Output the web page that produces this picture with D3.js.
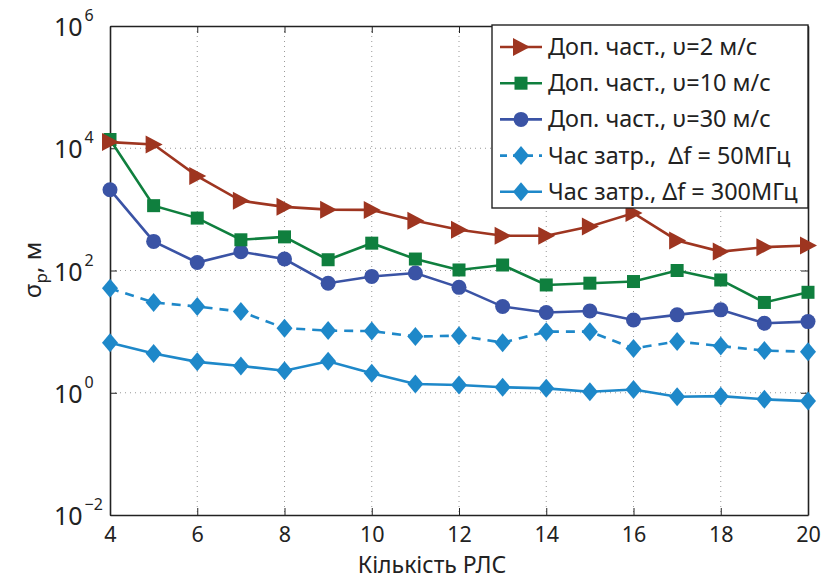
<!DOCTYPE html>
<meta charset="utf-8">
<html>
<style>
  body { margin: 0; background: #fff; }
  svg { font-family: "Noto Sans", sans-serif; }
  .grid line { stroke: #999; stroke-dasharray: 1,4; stroke-width: 1; }
</style>
<body>
<svg width="824" height="579"></svg>
<script src="https://d3js.org/d3.v7.min.js"></script>
<script>

// data
var radarCount = [4, 5, 6, 7, 8, 9, 10, 11, 12, 13, 14, 15, 16, 17, 18, 19, 20];
var dopV2  = [12600, 11500, 3500, 1380, 1100, 990, 980, 650, 465, 370, 370, 525, 870, 310, 204, 241, 257];
var dopV10 = [13900, 1150, 720, 318, 355, 150, 280, 154, 102, 123, 58, 62, 66, 100, 70, 30, 44];
var dopV30 = [2100, 299, 135, 203, 154, 62, 80, 91, 53, 25.7, 20.5, 21.8, 15.5, 18.8, 22.7, 13.7, 14.6];
var delay50  = [51, 30, 25.7, 21.3, 11.4, 10.4, 10.2, 8.3, 8.6, 6.6, 10, 10, 5.3, 6.9, 5.8, 4.9, 4.7];
var delay300 = [6.6, 4.4, 3.2, 2.74, 2.29, 3.27, 2.08, 1.39, 1.34, 1.23, 1.18, 1.04, 1.13, 0.86, 0.88, 0.78, 0.73];

var xTicks = [4, 6, 8, 10, 12, 14, 16, 18, 20];
var yExps = [-2, 0, 2, 4, 6];

var seriesNames = ["Доп. част., υ=2 м/с", "Доп. част., υ=10 м/с", "Доп. част., υ=30 м/с",
                   "Час затр.,  Δf = 50МГц", "Час затр., Δf = 300МГц"];

var series = [
  {name: seriesNames[0], values: dopV2,   color: "#9e3520", marker: "triangle", dash: null},
  {name: seriesNames[1], values: dopV10,  color: "#0f7f3e", marker: "square",   dash: null},
  {name: seriesNames[2], values: dopV30,  color: "#3a53a5", marker: "circle",   dash: null},
  {name: seriesNames[3], values: delay50, color: "#1e88c9", marker: "diamond",  dash: "9,7"},
  {name: seriesNames[4], values: delay300,color: "#1e88c9", marker: "diamond",  dash: null}
];

var svg = d3.select("svg");
var pLeft = 110, pRight = 808, pTop = 26, pBottom = 515;

var x = d3.scaleLinear().domain([4, 20]).range([pLeft, pRight]);
var y = d3.scaleLog().domain([1e-2, 1e6]).range([pBottom, pTop]);

// grid
var grid = svg.append("g").attr("class", "grid");
grid.selectAll(".gx").data(xTicks.slice(1, -1)).enter().append("line")
    .attr("x1", function(d) { return x(d); }).attr("x2", function(d) { return x(d); })
    .attr("y1", pTop).attr("y2", pBottom);
grid.selectAll(".gy").data(yExps.slice(1, -1)).enter().append("line")
    .attr("y1", function(d) { return y(Math.pow(10, d)); }).attr("y2", function(d) { return y(Math.pow(10, d)); })
    .attr("x1", pLeft).attr("x2", pRight);

// axes (ticks inside, box on)
var tk = 7;
var yVals = yExps.map(function(e) { return Math.pow(10, e); });
var xAxis = svg.append("g").attr("transform", "translate(0," + pBottom + ")")
    .call(d3.axisBottom(x).tickValues(xTicks).tickSizeInner(-tk).tickSizeOuter(0).tickPadding(12).tickFormat(d3.format("d")));
svg.append("g").attr("transform", "translate(0," + pTop + ")")
    .call(d3.axisTop(x).tickValues(xTicks).tickSizeInner(-tk).tickSizeOuter(0).tickFormat(""));
svg.append("g").attr("transform", "translate(" + pLeft + ",0)")
    .call(d3.axisLeft(y).tickValues(yVals).tickSizeInner(-tk).tickSizeOuter(0).tickFormat(""));
svg.append("g").attr("transform", "translate(" + pRight + ",0)")
    .call(d3.axisRight(y).tickValues(yVals).tickSizeInner(-tk).tickSizeOuter(0).tickFormat(""));

svg.selectAll(".domain").attr("stroke", "#222").attr("stroke-width", 1.6);
svg.selectAll(".tick line").attr("stroke", "#222").attr("stroke-width", 1);
xAxis.selectAll("text").attr("font-size", 21.5).attr("fill", "#222").attr("font-family", "Noto Sans");

// y tick labels with superscripts
var ylab = svg.append("g");
yExps.forEach(function(e) {
  var t = ylab.append("text")
      .attr("x", 54).attr("y", y(Math.pow(10, e)) + 10)
      .attr("text-anchor", "start").attr("font-size", 25).attr("fill", "#222");
  t.append("tspan").text("10");
  t.append("tspan").attr("dy", -15).attr("dx", 2).attr("font-size", 16).text(e < 0 ? "\u2212" + (-e) : e);
});

// axis titles
svg.append("text").attr("x", 432).attr("y", 573).attr("text-anchor", "middle")
    .attr("font-size", 23).attr("fill", "#222").text("Кількість РЛС");
var yt = svg.append("text").attr("transform", "translate(41,270) rotate(-90)")
    .attr("text-anchor", "middle").attr("font-size", 24).attr("fill", "#222");
yt.append("tspan").text("σ");
yt.append("tspan").attr("dy", 6).attr("font-size", 17).text("p");
yt.append("tspan").attr("dy", -6).text(", м");

// markers
function drawMarker(g, type, color, cx, cy) {
  if (type === "triangle") {
    g.append("path").attr("d", "M" + (cx - 8) + "," + (cy - 9) + "L" + (cx + 9) + "," + cy + "L" + (cx - 8) + "," + (cy + 9) + "Z")
        .attr("fill", color);
  } else if (type === "square") {
    g.append("rect").attr("x", cx - 6.5).attr("y", cy - 6.5).attr("width", 13).attr("height", 13).attr("fill", color);
  } else if (type === "circle") {
    g.append("circle").attr("cx", cx).attr("cy", cy).attr("r", 7.5).attr("fill", color);
  } else {
    g.append("path").attr("d", "M" + cx + "," + (cy - 9.5) + "L" + (cx + 8) + "," + cy + "L" + cx + "," + (cy + 9.5) + "L" + (cx - 8) + "," + cy + "Z")
        .attr("fill", color);
  }
}

var line = d3.line()
    .x(function(d, i) { return x(radarCount[i]); })
    .y(function(d) { return y(d); });

var plot = svg.append("g");
series.slice().reverse().forEach(function(s) {
  plot.append("path").attr("d", line(s.values))
      .attr("fill", "none").attr("stroke", s.color).attr("stroke-width", 2.6)
      .attr("stroke-dasharray", s.dash);
  s.values.forEach(function(v, i) {
    drawMarker(plot, s.marker, s.color, x(radarCount[i]), y(v));
  });
});

// legend
var lg = svg.append("g");
lg.append("rect").attr("x", 492).attr("y", 25).attr("width", 316).attr("height", 183)
    .attr("fill", "#fff").attr("stroke", "#222").attr("stroke-width", 1.4);
series.forEach(function(s, i) {
  var cy = 47 + i * 36.2;
  lg.append("line").attr("x1", 500).attr("x2", 542).attr("y1", cy).attr("y2", cy)
      .attr("stroke", s.color).attr("stroke-width", 2.6).attr("stroke-dasharray", s.dash ? "7,6" : null);
  drawMarker(lg, s.marker, s.color, 521, cy);
  lg.append("text").attr("x", 548).attr("y", cy + 8).attr("font-size", 23.4).attr("fill", "#222")
      .style("white-space", "pre").text(s.name);
});

</script>
</body>
</html>
